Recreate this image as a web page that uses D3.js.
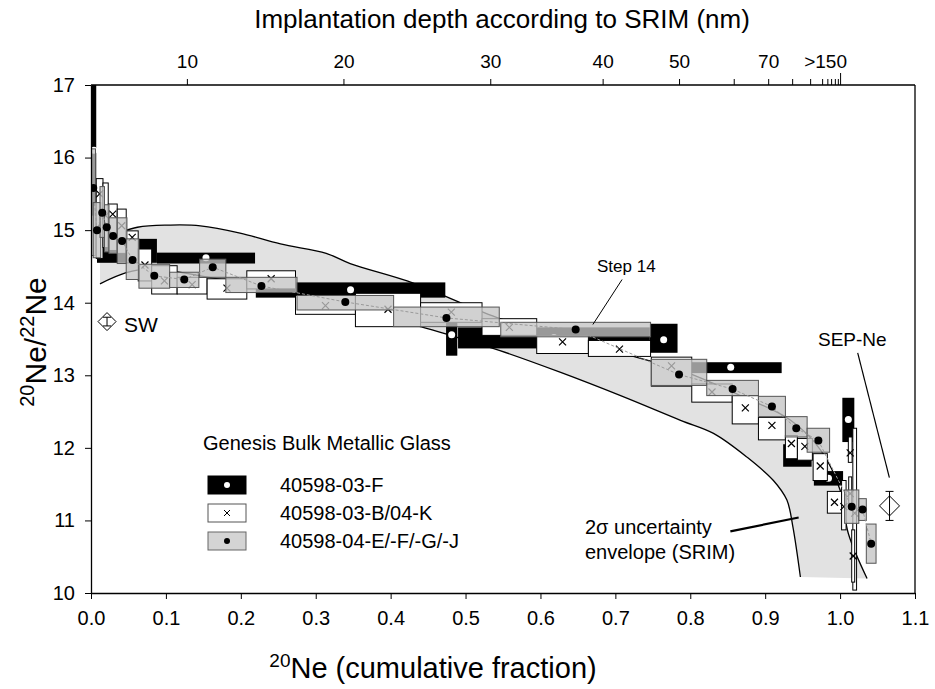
<!DOCTYPE html>
<html>
<head>
<meta charset="utf-8">
<script src="https://cdn.jsdelivr.net/npm/d3@7"></script>
<style>
  body { margin: 0; background: #fff; }
  text { font-family: "Liberation Sans", Arial, sans-serif; fill: #000; }
</style>
</head>
<body>
<div id="chart"></div>
<script>
// ---- data ----
// boxes: [fraction start, fraction end, 20Ne/22Ne, lower, upper]
const black03F = [
  [0.001, 0.007, 16.10, 15.20, 17.30],
  [0.008, 0.088, 14.72, 14.55, 14.88],
  [0.088, 0.219, 14.62, 14.54, 14.69],
  [0.220, 0.473, 14.18, 14.07, 14.28],
  [0.474, 0.489, 13.56, 13.27, 13.85],
  [0.490, 0.746, 13.52, 13.37, 13.66],
  [0.746, 0.783, 13.49, 13.31, 13.71],
  [0.786, 0.922, 13.11, 13.03, 13.18],
  [0.924, 0.962, 11.90, 11.74, 12.05],
  [0.965, 1.004, 11.58, 11.48, 11.68],
  [1.003, 1.019, 12.39, 12.08, 12.69]
];
const white03B04K = [
  [0.007, 0.016, 15.50, 14.61, 15.71],
  [0.016, 0.023, 15.20, 14.76, 15.65],
  [0.023, 0.035, 15.22, 14.72, 15.36],
  [0.035, 0.047, 15.06, 14.68, 15.29],
  [0.047, 0.063, 14.90, 14.55, 14.99],
  [0.063, 0.081, 14.52, 14.30, 14.74],
  [0.081, 0.115, 14.30, 14.12, 14.51],
  [0.115, 0.155, 14.25, 14.12, 14.35],
  [0.155, 0.208, 14.20, 14.05, 14.33],
  [0.208, 0.273, 14.33, 14.19, 14.44],
  [0.273, 0.353, 13.96, 13.84, 14.10],
  [0.353, 0.440, 13.91, 13.67, 14.13],
  [0.440, 0.522, 13.87, 13.73, 14.00],
  [0.522, 0.595, 13.66, 13.55, 13.78],
  [0.595, 0.664, 13.46, 13.30, 13.55],
  [0.664, 0.747, 13.36, 13.26, 13.48],
  [0.748, 0.802, 13.13, 12.85, 13.25],
  [0.802, 0.856, 12.77, 12.63, 12.88],
  [0.856, 0.891, 12.55, 12.33, 12.72],
  [0.891, 0.927, 12.31, 12.11, 12.42],
  [0.927, 0.943, 12.06, 11.85, 12.17],
  [0.943, 0.963, 12.02, 11.83, 12.13],
  [0.964, 0.983, 11.75, 11.55, 11.92],
  [0.983, 1.002, 11.25, 11.10, 11.40],
  [1.002, 1.008, 11.19, 10.87, 11.55],
  [1.011, 1.016, 11.93, 11.80, 12.15],
  [1.0115, 1.0155, 11.37, 11.20, 11.60],
  [1.017, 1.022, 11.10, 10.04, 12.27],
  [1.0155, 1.0195, 10.51, 10.15, 10.87]
];
const gray04EFGJ = [
  [0.000, 0.006, 15.58, 14.65, 16.12],
  [0.003, 0.013, 15.00, 14.62, 15.38],
  [0.012, 0.018, 15.24, 14.90, 15.60],
  [0.018, 0.024, 15.04, 14.70, 15.35],
  [0.024, 0.035, 14.92, 14.68, 15.17],
  [0.035, 0.048, 14.85, 14.54, 15.17],
  [0.047, 0.064, 14.59, 14.32, 14.88],
  [0.064, 0.105, 14.37, 14.20, 14.53],
  [0.105, 0.144, 14.32, 14.21, 14.42],
  [0.145, 0.180, 14.49, 14.35, 14.60],
  [0.180, 0.275, 14.23, 14.14, 14.35],
  [0.275, 0.404, 14.01, 13.90, 14.10],
  [0.404, 0.545, 13.79, 13.67, 13.94],
  [0.547, 0.747, 13.63, 13.53, 13.73],
  [0.748, 0.822, 13.01, 12.86, 13.22],
  [0.822, 0.891, 12.81, 12.72, 12.93],
  [0.891, 0.927, 12.57, 12.43, 12.71],
  [0.927, 0.956, 12.27, 12.15, 12.43],
  [0.956, 0.986, 12.10, 11.94, 12.27],
  [1.006, 1.025, 11.19, 10.96, 11.42],
  [1.025, 1.035, 11.15, 11.00, 11.30],
  [1.035, 1.048, 10.68, 10.41, 10.95]
];
// SRIM 2-sigma envelope
const envUpper = [
  [0.012, 14.86], [0.062, 15.04], [0.106, 15.07], [0.146, 15.06], [0.199, 14.96],
  [0.253, 14.81], [0.314, 14.68], [0.346, 14.54], [0.422, 14.30], [0.470, 14.10],
  [0.546, 13.78], [0.627, 13.55], [0.707, 13.31], [0.787, 13.07], [0.867, 12.72],
  [0.934, 12.38], [0.974, 11.97], [1.000, 11.42], [1.011, 10.82], [1.036, 10.20]
];
const envLower = [
  [0.012, 14.26], [0.046, 14.41], [0.079, 14.47], [0.146, 14.37], [0.213, 14.24],
  [0.279, 14.07], [0.346, 13.92], [0.413, 13.75], [0.480, 13.55], [0.546, 13.34],
  [0.627, 13.04], [0.707, 12.72], [0.787, 12.38], [0.831, 12.20], [0.876, 11.87],
  [0.911, 11.55], [0.929, 11.28], [0.937, 10.91], [0.947, 10.22]
];
// reference compositions: [fraction, ratio, error]
const swPoint = [0.0214, 13.74, 0.06];
const sepPoint = [1.066, 11.20, 0.20];

const xTicks = [0.0, 0.1, 0.2, 0.3, 0.4, 0.5, 0.6, 0.7, 0.8, 0.9, 1.0, 1.1];
const yTicks = [10, 11, 12, 13, 14, 15, 16, 17];
// top axis: SRIM depth (nm) and where it sits on the cumulative fraction axis
const depthTicks = [10, 20, 30, 40, 50, 60, 70, 80, 90, 100, 110, 120, 130, 140, 150];
const depthFrac = [0.128, 0.337, 0.533, 0.683, 0.785, 0.858, 0.904, 0.936, 0.960, 0.976, 0.983, 0.988, 0.993, 0.997, 1.0];
const depthLabels = ['10', '20', '30', '40', '50', '', '70', '', '', '', '', '', '', '', '>150'];

const legendItems = ['40598-03-F', '40598-03-B/04-K', '40598-04-E/-F/-G/-J'];

// annotation leader lines in data space
const step14Line = [[0.709, 14.32], [0.670, 13.70]];
const sepLine = [[1.0235, 13.31], [1.0658, 11.59]];
const envLine = [[0.8535, 10.85], [0.9447, 11.04]];

// ---- chart ----
const width = 935, height = 689;
const plot = { left: 91, right: 915, top: 85, bottom: 593 };

const svg = d3.select('#chart').append('svg')
  .attr('width', width).attr('height', height);

const x = d3.scaleLinear().domain([0, 1.1]).range([plot.left, plot.right]);
const y = d3.scaleLinear().domain([10, 17]).range([plot.bottom, plot.top]);

svg.append('clipPath').attr('id', 'clip')
  .append('rect')
  .attr('x', plot.left).attr('y', plot.top)
  .attr('width', plot.right - plot.left).attr('height', plot.bottom - plot.top);

const g = svg.append('g').attr('clip-path', 'url(#clip)');

// envelope
const line = d3.line().x(d => x(d[0])).y(d => y(d[1]));
g.append('path')
  .attr('d', line(envUpper.concat(envLower.slice().reverse())) + 'Z')
  .attr('fill', '#e2e2e2');
[envUpper, envLower].forEach(pts => {
  g.append('path')
    .attr('d', line.curve(d3.curveCatmullRom)(pts))
    .attr('fill', 'none').attr('stroke', '#000').attr('stroke-width', 1.3);
});
line.curve(d3.curveLinear);

function boxes(data, cls) {
  return g.append('g').attr('class', cls).selectAll('rect')
    .data(data).join('rect')
    .attr('x', d => x(d[0]))
    .attr('y', d => y(d[4]))
    .attr('width', d => Math.max(1, x(d[1]) - x(d[0])))
    .attr('height', d => y(d[3]) - y(d[4]));
}
const cx = d => x((d[0] + d[1]) / 2);

// 40598-03-F
boxes(black03F, 'black').attr('fill', '#000');
g.append('g').selectAll('circle').data(black03F).join('circle')
  .attr('cx', cx).attr('cy', d => y(d[2])).attr('r', 3.5).attr('fill', '#fff');

// 40598-03-B/04-K
boxes(white03B04K, 'white').attr('fill', '#fff').attr('stroke', '#000').attr('stroke-width', 1);
g.append('g').selectAll('path').data(white03B04K).join('path')
  .attr('d', d => {
    const px = cx(d), py = y(d[2]), s = 3.5;
    return `M${px - s},${py - s}L${px + s},${py + s}M${px - s},${py + s}L${px + s},${py - s}`;
  })
  .attr('stroke', '#000').attr('stroke-width', 1.2);

// 40598-04-E/-F/-G/-J
boxes(gray04EFGJ, 'gray').attr('fill', '#c4c4c4').attr('fill-opacity', 0.78)
  .attr('stroke', '#555').attr('stroke-width', 1);
g.append('path')
  .datum(gray04EFGJ)
  .attr('d', d3.line().x(cx).y(d => y(d[2])))
  .attr('fill', 'none').attr('stroke', '#9a9a9a').attr('stroke-width', 1).attr('stroke-dasharray', '3,2');
g.append('g').selectAll('circle').data(gray04EFGJ).join('circle')
  .attr('cx', cx).attr('cy', d => y(d[2])).attr('r', 4).attr('fill', '#000');

// SW and SEP-Ne diamonds with error bars
function diamond(p, s) {
  const px = x(p[0]), py = y(p[1]);
  const grp = svg.append('g');
  grp.append('path')
    .attr('d', `M${px},${py - s}L${px + s},${py}L${px},${py + s}L${px - s},${py}Z`)
    .attr('fill', '#fff').attr('stroke', '#000').attr('stroke-width', 1);
  const y0 = y(p[1] - p[2]), y1 = y(p[1] + p[2]), c = 4;
  grp.append('path')
    .attr('d', `M${px},${y0}L${px},${y1}M${px - c},${y0}L${px + c},${y0}M${px - c},${y1}L${px + c},${y1}`)
    .attr('stroke', '#000').attr('stroke-width', 1).attr('fill', 'none');
}
diamond(swPoint, 9);
diamond(sepPoint, 10);

// leader lines
svg.append('path').attr('d', line(step14Line)).attr('stroke', '#000').attr('stroke-width', 1).attr('fill', 'none');
svg.append('path').attr('d', line(sepLine)).attr('stroke', '#000').attr('stroke-width', 1.2).attr('fill', 'none');
svg.append('path').attr('d', line(envLine)).attr('stroke', '#000').attr('stroke-width', 2.2).attr('fill', 'none');

// annotations
svg.append('text').attr('x', 124).attr('y', 332).attr('font-size', 21).text('SW');
svg.append('text').attr('x', 818).attr('y', 346).attr('font-size', 19).text('SEP-Ne');
svg.append('text').attr('x', 597).attr('y', 272).attr('font-size', 17).text('Step 14');
const envText = svg.append('text').attr('font-size', 20);
envText.append('tspan').attr('x', 585).attr('y', 534).text('2σ uncertainty');
envText.append('tspan').attr('x', 585).attr('y', 559).text('envelope (SRIM)');

// legend
svg.append('text').attr('x', 203).attr('y', 450).attr('font-size', 20).text('Genesis Bulk Metallic Glass');
const leg = svg.append('g').selectAll('g').data(legendItems).join('g')
  .attr('transform', (d, i) => `translate(208,${476 + i * 28})`);
leg.append('rect').attr('width', 38).attr('height', 18)
  .attr('fill', (d, i) => ['#000', '#fff', '#d4d4d4'][i])
  .attr('stroke', (d, i) => ['#000', '#555', '#666'][i]).attr('stroke-width', 1);
leg.filter((d, i) => i !== 1).append('circle').attr('cx', 19).attr('cy', 9).attr('r', 3)
  .attr('fill', (d, i) => i === 0 ? '#fff' : '#000');
leg.filter((d, i) => i === 1).append('path').attr('d', 'M16,6L22,12M16,12L22,6')
  .attr('stroke', '#000').attr('stroke-width', 1);
leg.append('text').attr('x', 72).attr('y', 16).attr('font-size', 20).text(d => d);

// axes
const axisStyle = sel => {
  sel.selectAll('path.domain').attr('stroke', '#000').attr('stroke-width', 1.3);
  sel.selectAll('.tick line').attr('stroke', '#000').attr('stroke-width', 1);
  sel.selectAll('text').attr('font-family', '"Liberation Sans", Arial, sans-serif').attr('fill', '#000');
};

svg.append('g').attr('transform', `translate(0,${plot.bottom})`)
  .call(d3.axisBottom(x).tickValues(xTicks).tickFormat(d3.format('.1f')).tickSize(6).tickSizeOuter(0).tickPadding(12))
  .call(axisStyle)
  .selectAll('text').attr('font-size', 20);

svg.append('g').attr('transform', `translate(${plot.left},0)`)
  .call(d3.axisLeft(y).tickValues(yTicks).tickFormat(d3.format('d')).tickSize(6).tickSizeOuter(0).tickPadding(10))
  .call(axisStyle)
  .selectAll('text').attr('font-size', 20);

// right frame line
svg.append('line').attr('x1', plot.right).attr('x2', plot.right)
  .attr('y1', plot.top).attr('y2', plot.bottom).attr('stroke', '#000').attr('stroke-width', 1.3);

// top depth axis, piecewise mapping depth -> fraction
const depthScale = d3.scaleLinear().domain(depthTicks).range(depthFrac.map(f => x(f)));
const topAxis = svg.append('g').attr('transform', `translate(0,${plot.top})`)
  .call(d3.axisTop(depthScale).tickValues(depthTicks)
    .tickFormat((d, i) => depthLabels[i]).tickSize(6).tickSizeOuter(0).tickPadding(11))
  .call(axisStyle);
topAxis.select('path.domain').attr('d', `M${plot.left},0H${plot.right}`);
topAxis.selectAll('text').attr('font-size', 19)
  .attr('font-family', '"Liberation Sans Narrow", "Liberation Sans", Arial, sans-serif');
topAxis.selectAll('.tick').filter(d => d === 150).select('line').attr('y2', -12);
topAxis.selectAll('.tick').filter(d => d === 150).select('text').attr('dx', -15);

// titles
svg.append('text').attr('x', 502).attr('y', 28).attr('text-anchor', 'middle')
  .attr('font-size', 26).text('Implantation depth according to SRIM (nm)');

const xt = svg.append('text').attr('x', 433).attr('y', 678).attr('text-anchor', 'middle').attr('font-size', 29);
xt.append('tspan').attr('font-size', 19).attr('dy', -11).text('20');
xt.append('tspan').attr('dy', 11).text('Ne (cumulative fraction)');

const yt = svg.append('text').attr('transform', 'translate(46,342) rotate(-90)')
  .attr('text-anchor', 'middle').attr('font-size', 30);
yt.append('tspan').attr('font-size', 20).attr('dy', -12).text('20');
yt.append('tspan').attr('dy', 12).text('Ne/');
yt.append('tspan').attr('font-size', 20).attr('dy', -12).text('22');
yt.append('tspan').attr('dy', 12).text('Ne');
</script>
</body>
</html>
